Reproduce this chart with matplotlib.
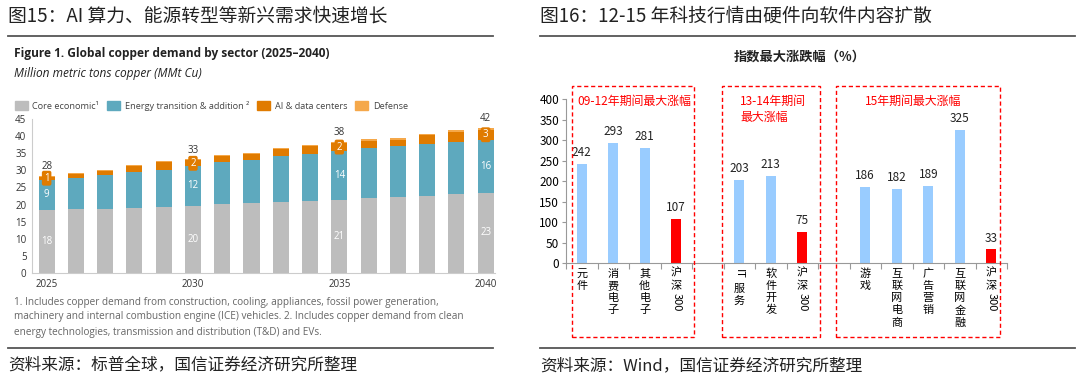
import re
import numpy as np
import matplotlib
matplotlib.use('Agg')
import matplotlib.pyplot as plt
from matplotlib.patches import Patch, Rectangle
from matplotlib.lines import Line2D

plt.rcParams['font.family'] = ['Noto Sans CJK SC', 'DejaVu Sans']

# ---- left chart data: global copper demand by sector (MMt Cu)
years = list(range(2025, 2041))
core = [18.3, 18.7, 18.7, 19.1, 19.3, 19.7, 20.1, 20.4, 20.8, 21.0, 21.4, 22.0, 22.2, 22.6, 23.0, 23.4]
energy = [9.0, 9.1, 9.9, 10.3, 10.9, 11.5, 12.2, 12.5, 13.3, 13.9, 14.2, 14.4, 14.8, 15.2, 15.4, 15.5]
ai_dc = [0.8, 1.1, 1.3, 1.8, 2.1, 1.7, 1.8, 1.9, 2.1, 2.1, 2.4, 2.2, 2.0, 2.4, 2.8, 3.0]
defense = [0.3, 0.3, 0.3, 0.3, 0.3, 0.4, 0.4, 0.4, 0.4, 0.4, 0.4, 0.5, 0.5, 0.5, 0.5, 0.5]
label_years = [2025, 2030, 2035, 2040]

# ---- right chart data: max index gain (%)
cats = ['元件', '消费电子', '其他电子', '沪深300', '',
        'IT服务', '软件开发', '沪深300', '',
        '游戏', '互联网电商', '广告营销', '互联网金融', '沪深300']
gains = [242, 293, 281, 107, np.nan, 203, 213, 75, np.nan, 186, 182, 189, 325, 33]
is_index = [c == '沪深300' for c in cats]

W, H = 1080, 384
fig = plt.figure(figsize=(W / 100, H / 100), dpi=100)


def fx(px):
    return px / W


def fy(py):
    return 1 - py / H


def hline(x0, x1, y, color='#555555', lw=1.3):
    fig.add_artist(Line2D([fx(x0), fx(x1)], [fy(y), fy(y)], color=color, lw=lw))


# titles and rules
fig.text(fx(8), fy(16), '图15：AI 算力、能源转型等新兴需求快速增长', fontsize=13.5, va='center', color='#222222')
fig.text(fx(540), fy(16), '图16：12-15 年科技行情由硬件向软件内容扩散', fontsize=13.5, va='center', color='#222222')
hline(8, 493, 36)
hline(540, 1075, 36)
hline(8, 493, 348)
hline(540, 1075, 348)
fig.text(fx(8), fy(366), '资料来源：标普全球，国信证券经济研究所整理', fontsize=12, va='center', color='#222222')
fig.text(fx(540), fy(366), '资料来源：Wind，国信证券经济研究所整理', fontsize=12, va='center', color='#222222')

# ---------------- left chart
c_core, c_en, c_ai, c_def = '#bdbdbd', '#5ea9be', '#e07b00', '#f5a84a'
fig.text(fx(14), fy(53), 'Figure 1. Global copper demand by sector (2025\u20132040)', fontsize=8.6,
         fontweight='bold', va='center', color='#222222', family='Open Sans')
fig.text(fx(14), fy(73), 'Million metric tons copper (MMt Cu)', fontsize=8.6, style='italic',
         va='center', color='#222222', family='Open Sans')

ax1 = fig.add_axes([fx(32), fy(273), fx(495) - fx(32), fy(119) - fy(273)])
x = np.arange(len(years))
core_a, en_a, ai_a, def_a = map(np.array, (core, energy, ai_dc, defense))
bw = 0.55
ax1.bar(x, core_a, bw, color=c_core)
ax1.bar(x, en_a, bw, bottom=core_a, color=c_en)
ax1.bar(x, ai_a, bw, bottom=core_a + en_a, color=c_ai)
ax1.bar(x, def_a, bw, bottom=core_a + en_a + ai_a, color=c_def)
total = core_a + en_a + ai_a + def_a
for yr in label_years:
    i = years.index(yr)
    ax1.text(i, core_a[i] / 2, f'{core_a[i]:.0f}', ha='center', va='center', color='white', fontsize=7, family='Open Sans')
    ax1.text(i, core_a[i] + en_a[i] / 2, f'{en_a[i]:.0f}', ha='center', va='center', color='white', fontsize=7, family='Open Sans')
    ax1.text(i, core_a[i] + en_a[i] + ai_a[i] / 2, f'{ai_a[i]:.0f}', ha='center', va='center', color='white',
             fontsize=7, family='Open Sans',
             bbox=dict(boxstyle='round,pad=0.2', fc=c_ai, ec='none'))
    ax1.text(i, total[i] + 1.0, f'{total[i]:.0f}', ha='center', va='bottom', color='#333333', fontsize=7, family='Open Sans')

ax1.set_xlim(-0.5, len(years) - 0.68)
ax1.set_ylim(0, 45)
ax1.set_yticks(range(0, 46, 5))
ax1.set_xticks([years.index(y) for y in label_years])
ax1.set_xticklabels([str(y) for y in label_years])
ax1.tick_params(length=0, labelsize=7, colors='#333333', pad=4)
for lab in ax1.get_xticklabels() + ax1.get_yticklabels():
    lab.set_family('Open Sans')
for s in ['top', 'right']:
    ax1.spines[s].set_visible(False)
for s in ['left', 'bottom']:
    ax1.spines[s].set_color('#cccccc')
    ax1.spines[s].set_linewidth(0.8)
handles = [Patch(color=c_core), Patch(color=c_en), Patch(color=c_ai), Patch(color=c_def)]
leg = ax1.legend(handles, ['Core economic\u00b9', 'Energy transition & addition \u00b2', 'AI & data centers', 'Defense'],
                 ncol=4, loc='lower left', bbox_to_anchor=(-0.045, 1.03), frameon=False,
                 prop={'family': 'Open Sans', 'size': 6.6}, handlelength=1.4, handleheight=1.1,
                 columnspacing=0.9, handletextpad=0.5, borderaxespad=0)
for t in leg.get_texts():
    t.set_color('#444444')

notes = ['1. Includes copper demand from construction, cooling, appliances, fossil power generation,',
         'machinery and internal combustion engine (ICE) vehicles. 2. Includes copper demand from clean',
         'energy technologies, transmission and distribution (T&D) and EVs.']
for k, line in enumerate(notes):
    fig.text(fx(14), fy(302 + 15 * k), line, fontsize=7.2, color='#666666', va='center', family='Open Sans')

# ---------------- right chart
fig.text(fx(800), fy(57), '指数最大涨跌幅（%）', fontsize=9.5, fontweight='bold', ha='center', va='center', color='#222222')
ax2 = fig.add_axes([fx(566), fy(263), fx(1007) - fx(566), fy(99.3) - fy(263)])
xr = np.arange(len(cats))
colors = ['#ff0000' if f else '#99ccff' for f in is_index]
ax2.bar(xr, gains, 0.32, color=colors)
for i, v in enumerate(gains):
    if not np.isnan(v):
        ax2.text(i, v + 12, f'{v:.0f}', ha='center', va='bottom', fontsize=8.5, color='#222222')
ax2.set_xlim(-0.5, len(cats) - 0.5)
ax2.set_ylim(0, 400)
ax2.set_yticks(range(0, 401, 50))
ax2.set_xticks(np.arange(-0.5, len(cats), 1.0))
ax2.set_xticklabels([])
ax2.tick_params(axis='y', length=3, labelsize=8.5, color='#999999', pad=2)
ax2.tick_params(axis='x', length=4, color='#999999')
for s in ['top', 'right']:
    ax2.spines[s].set_visible(False)
for s in ['left', 'bottom']:
    ax2.spines[s].set_color('#999999')
    ax2.spines[s].set_linewidth(0.8)

# vertical stacked category labels
fs = 8
for i, c in enumerate(cats):
    off = -4
    for tok in re.findall(r'[A-Za-z0-9]+|.', c):
        if tok.isascii():
            ax2.annotate(tok, (i, 0), xycoords=('data', 'axes fraction'), xytext=(0, off),
                         textcoords='offset points', rotation=-90, ha='center', va='top', fontsize=fs)
            off -= len(tok) * fs * 0.62 + 1
        else:
            ax2.annotate(tok, (i, 0), xycoords=('data', 'axes fraction'), xytext=(0, off),
                         textcoords='offset points', ha='center', va='top', fontsize=fs)
            off -= fs * 1.1

# red dashed group boxes
boxes = [(572, 694, '09-12年期间最大涨幅', 577, 'left'),
         (722, 820, '13-14年期间\n最大涨幅', 740, 'left'),
         (836, 1000, '15年期间最大涨幅', 913, 'center')]
for x0, x1, txt, tx, ha in boxes:
    fig.add_artist(Rectangle((fx(x0), fy(337)), fx(x1) - fx(x0), fy(86) - fy(337), fill=False,
                             ec='#ff0000', lw=1.0, ls=(0, (3, 2))))
    fig.text(fx(tx), fy(95), txt, fontsize=8.6, color='#ff0000', ha=ha, va='top', linespacing=1.3)

fig.savefig('out.png', dpi=100)
